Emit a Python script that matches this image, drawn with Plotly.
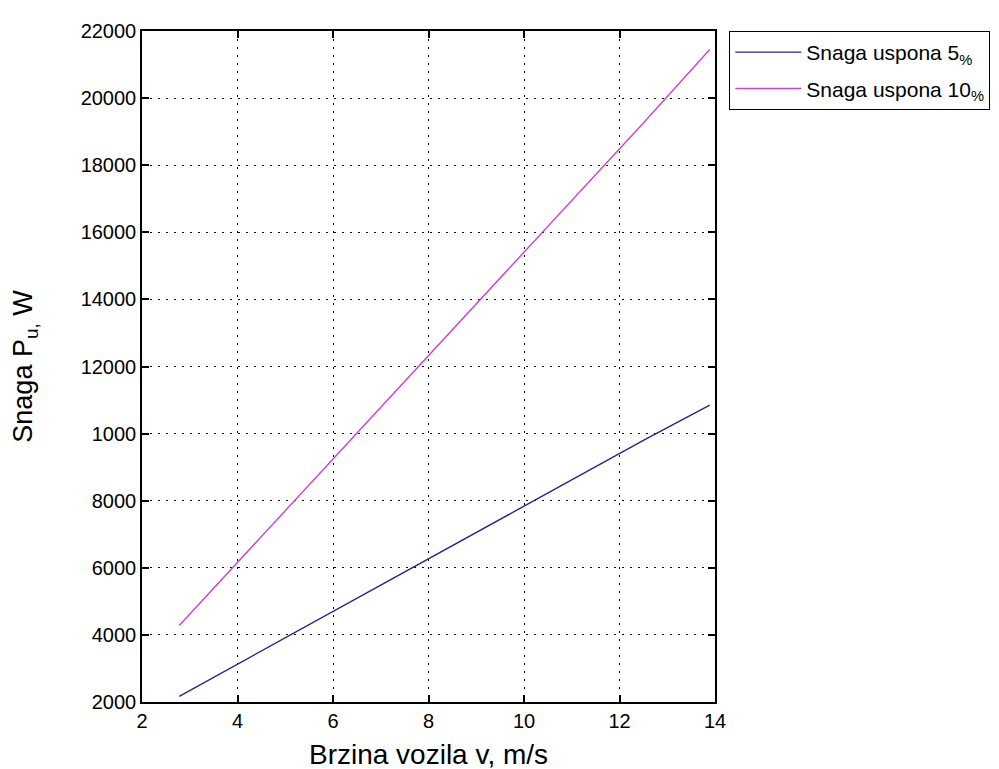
import plotly.graph_objects as go

# brzina vozila v [m/s]
brzina = [2.78, 4.17, 5.56, 6.94, 8.33, 9.72, 11.11, 12.50, 13.89]
# snaga uspona P_u [W]
snaga_5 = [2170, 3260, 4350, 5440, 6530, 7620, 8710, 9800, 10850]
snaga_10 = [4280, 6420, 8560, 10700, 12840, 14980, 17120, 19260, 21450]

x_ticks = [2, 4, 6, 8, 10, 12, 14]
y_ticks = [2000, 4000, 6000, 8000, 10000, 12000, 14000, 16000, 18000, 20000, 22000]
y_ticktext = ["2000", "4000", "6000", "8000", "1000", "12000", "14000",
              "16000", "18000", "20000", "22000"]

font_name = "Liberation Sans, Arial, sans-serif"

fig = go.Figure()
fig.add_trace(go.Scatter(x=brzina, y=snaga_5, mode="lines",
                         name="Snaga uspona 5<sub>%</sub>", legendgroup="a",
                         line=dict(color="#25258a", width=1.4)))
fig.add_trace(go.Scatter(x=brzina, y=snaga_10, mode="lines",
                         name="Snaga uspona 10<sub>%</sub>", legendgroup="b",
                         line=dict(color="#cc44cc", width=1.4)))

axis_common = dict(
    showline=True, linecolor="black", linewidth=1.5, mirror="ticks",
    ticks="inside", ticklen=7, tickcolor="black", tickwidth=1.5,
    showgrid=True, gridcolor="black", griddash="2px,6px", gridwidth=1.2,
    zeroline=False, tickfont=dict(family=font_name, size=20, color="black"),
)

fig.update_xaxes(range=[2, 14], tickvals=x_ticks,
                 title=dict(text="Brzina vozila v, m/s", standoff=14,
                            font=dict(family=font_name, size=28, color="black")),
                 **axis_common)
fig.update_yaxes(range=[2000, 22000], tickvals=y_ticks, ticktext=y_ticktext,
                 title=dict(text="Snaga P<sub>u,</sub> W", standoff=42,
                            font=dict(family=font_name, size=27, color="black")),
                 **axis_common)

fig.update_layout(
    width=999, height=769,
    margin=dict(l=131, r=292, t=21, b=69),
    paper_bgcolor="white", plot_bgcolor="white",
    showlegend=True,
    legend=dict(x=1.025, y=1.0, xanchor="left", yanchor="top",
                bordercolor="black", borderwidth=1, bgcolor="white",
                itemwidth=66, traceorder="grouped", tracegroupgap=6,
                font=dict(family=font_name, size=21, color="black")),
)

fig.write_html("out.html")
